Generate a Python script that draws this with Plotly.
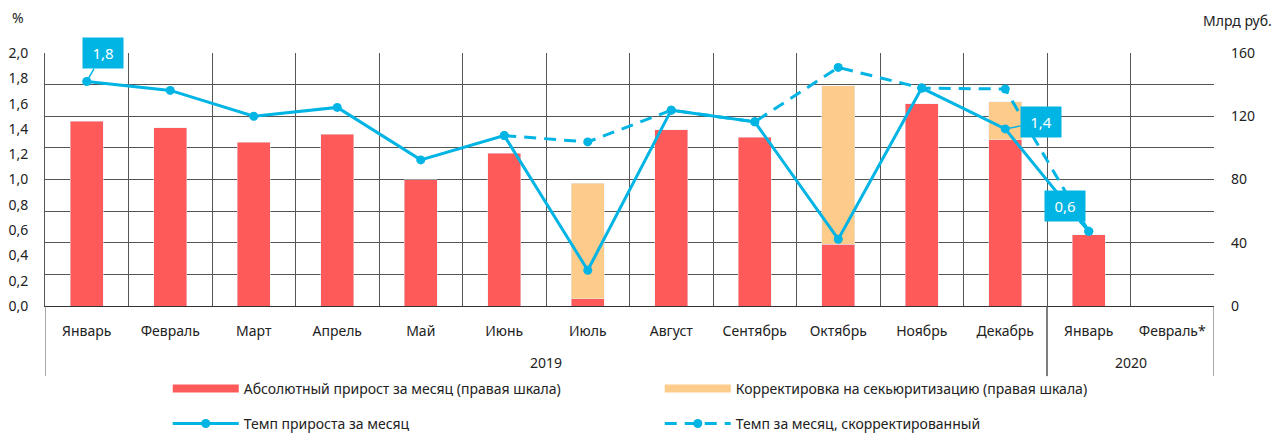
import plotly.graph_objects as go

months = ["Январь", "Февраль", "Март", "Апрель", "Май", "Июнь", "Июль", "Август",
          "Сентябрь", "Октябрь", "Ноябрь", "Декабрь", "Январь", "Февраль*"]
years = ["2019", "2020"]
year_first_idx = [0, 12]
year_last_idx = [11, 13]

abs_growth = [116.7, 112.7, 103.6, 108.5, 79.7, 96.6, 4.6, 111.4, 106.8, 38.9, 127.9, 105.1, 45.2, None]
securit_adj = [None, None, None, None, None, None, 73.0, None, None, 100.4, None, 24.1, None, None]
rate = [1.775, 1.704, 1.50, 1.57, 1.155, 1.347, 0.283, 1.548, 1.456, 0.528, 1.723, 1.40, 0.59, None]
rate_adj = [None, None, None, None, None, 1.347, 1.297, 1.548, 1.456, 1.886, 1.723, 1.715, 0.59, None]

left_ticks = [0, 0.2, 0.4, 0.6, 0.8, 1.0, 1.2, 1.4, 1.6, 1.8, 2.0]
right_ticks = [0, 20, 40, 60, 80, 100, 120, 140, 160]
right_ticktext = ["0", "", "40", "", "80", "", "120", "", "160"]

callouts = [(0, 1.775, "1,8", 16, -28), (11, 1.40, "1,4", 36, -7), (12, 0.59, "0,6", -24, -25)]

RED = "#FF5A5A"
ORANGE = "#FDCB8A"
BLUE = "#00B4E4"
FONT = "Noto Sans"
GRID = "#555555"

xs = list(range(len(months)))

fig = go.Figure()
fig.add_trace(go.Bar(x=xs, y=abs_growth, name="Абсолютный прирост за месяц (правая шкала)",
                     marker_color=RED, yaxis="y", showlegend=False))
fig.add_trace(go.Bar(x=xs, y=securit_adj, name="Корректировка на секьюритизацию (правая шкала)",
                     marker_color=ORANGE, yaxis="y", showlegend=False))
# legend swatches for the bar series
fig.add_trace(go.Scatter(x=[None], y=[None], mode="lines", name="Абсолютный прирост за месяц (правая шкала)",
                         line=dict(color=RED, width=8), yaxis="y", legend="legend"))
fig.add_trace(go.Scatter(x=[None], y=[None], mode="lines", name="Корректировка на секьюритизацию (правая шкала)",
                         line=dict(color=ORANGE, width=8), yaxis="y", legend="legend"))
fig.add_trace(go.Scatter(x=xs, y=rate, name="Темп прироста за месяц", mode="lines+markers",
                         line=dict(color=BLUE, width=3), marker=dict(size=9, color=BLUE),
                         yaxis="y2", legend="legend2"))
fig.add_trace(go.Scatter(x=xs, y=rate_adj, name="Темп за месяц, скорректированный", mode="lines+markers",
                         line=dict(color=BLUE, width=3, dash="12px,8px"), marker=dict(size=9, color=BLUE),
                         yaxis="y2", legend="legend2"))

for xi, yi, txt, ax, ay in callouts:
    fig.add_annotation(x=xi, y=yi, xref="x", yref="y2", text=txt, showarrow=True,
                       ax=ax, ay=ay, arrowhead=0, arrowwidth=1.5, arrowcolor=BLUE,
                       bgcolor=BLUE, borderpad=5, width=30,
                       font=dict(color="white", size=15, family=FONT))

# year labels and group dividers below the axis
for yr, a, b in zip(years, year_first_idx, year_last_idx):
    fig.add_annotation(x=(a + b) / 2, y=-0.225, xref="x", yref="paper", text=yr, showarrow=False,
                       yanchor="middle", font=dict(size=14, color="#222", family=FONT))
    for edge in (a - 0.5, b + 0.5):
        fig.add_shape(type="line", xref="x", yref="paper", x0=edge, x1=edge, y0=0, y1=-0.277,
                      line=dict(color=GRID, width=1))

fig.add_annotation(x=0.0, y=1.0, xref="paper", yref="paper", xanchor="center", yanchor="middle",
                   xshift=-27, yshift=36,
                   text="%", showarrow=False, font=dict(size=14, color="#222", family=FONT))
fig.add_annotation(x=1.0, y=1.0, xref="paper", yref="paper", xshift=-13, yshift=33, xanchor="left",
                   yanchor="middle",
                   text="Млрд руб.", showarrow=False, font=dict(size=14, color="#222", family=FONT))

fig.update_layout(
    width=1279, height=427,
    margin=dict(l=37, r=73, t=45, b=129, autoexpand=False),
    paper_bgcolor="white", plot_bgcolor="white",
    separators=", ",
    barmode="stack", bargap=0.6,
    font=dict(family=FONT, size=14, color="#222"),
    xaxis=dict(range=[-0.5, 13.5], tickvals=xs, ticktext=months, showgrid=False,
               showline=True, linecolor="#333", linewidth=1, ticks="", zeroline=False,
               ticklabelstandoff=12, tickfont=dict(size=14, color="#222"),
               minor=dict(tick0=-0.5, dtick=1, showgrid=True, gridcolor=GRID, gridwidth=1)),
    yaxis=dict(side="right", range=[0, 160], tickvals=right_ticks, ticktext=right_ticktext,
               showgrid=True, gridcolor=GRID, gridwidth=1, zeroline=False,
               ticklabelstandoff=16, tickfont=dict(size=14, color="#222")),
    yaxis2=dict(side="left", overlaying="y", range=[0, 2.0], tickvals=left_ticks, tickformat=".1f",
                showgrid=False, zeroline=False, showline=True, linecolor=GRID,
                ticklabelstandoff=13, tickfont=dict(size=14, color="#222")),
    legend=dict(orientation="h", x=0.105, xanchor="left", y=-0.328, yanchor="middle",
                traceorder="normal", entrywidth=411, entrywidthmode="pixels", itemwidth=66,
                font=dict(size=14, color="#222", family=FONT), bgcolor="rgba(0,0,0,0)"),
    legend2=dict(orientation="h", x=0.105, xanchor="left", y=-0.466, yanchor="middle",
                 traceorder="normal", entrywidth=411, entrywidthmode="pixels", itemwidth=66,
                 font=dict(size=14, color="#222", family=FONT), bgcolor="rgba(0,0,0,0)"),
    showlegend=True,
)

fig.write_html("out.html")
